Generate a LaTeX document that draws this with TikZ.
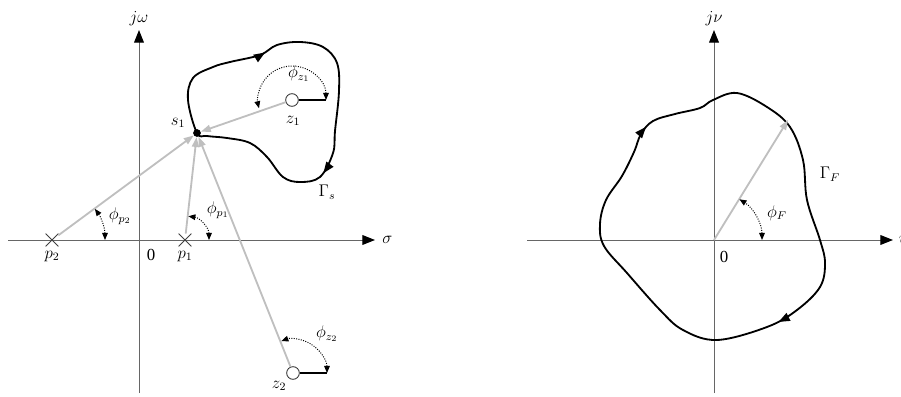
\documentclass[tikz,border=0pt]{standalone}
\usepackage{fontspec}
\setmainfont{Liberation Serif}
\usetikzlibrary{arrows.meta,shapes.misc,decorations.markings,positioning}

\begin{document}
\begin{tikzpicture}[
  x=0.025cm, y=0.025cm,
  font=\large,
  axis/.style={black!60, line width=0.7pt,
    -{Triangle[length=9pt,width=7pt,black]}},
  contour/.style={line width=1.3pt, line join=round},
  vec/.style={black!25, line width=1.3pt, -{Triangle[length=7pt,width=5pt]}},
  angarc/.style={densely dotted, line width=0.7pt,
    {Triangle[length=5pt,width=4pt]}-{Triangle[length=5pt,width=4pt]}},
  refray/.style={line width=0.9pt},
  pole/.style={cross out, draw, black!75, minimum size=8.5pt,
    inner sep=0pt, line width=0.6pt},
  zero/.style={circle, draw, black!80, fill=white, minimum size=9pt,
    inner sep=0pt, line width=0.6pt},
  dot/.style={circle, fill=black, minimum size=5.5pt, inner sep=0pt},
  lbl/.style={inner sep=1pt},
]
\useasboundingbox (0,0) rectangle (901,396);

% =========================== LEFT: s-plane ================================
\coordinate (xl1) at (8,156);
\coordinate (xr1) at (375,156);
\coordinate (yb1) at (139,3);
\coordinate (yt1) at (139,366);
\draw[axis] (xl1) -- (xr1);
\draw[axis] (yb1) -- (yt1);
\node[lbl, above=2pt of yt1] {$j\omega$};
\node[lbl, right=4pt of xr1] {$\sigma$};
\node[lbl] at (151,141) {0};

% contour Gamma_s
\draw[contour, decoration={markings,
    mark=at position 0.21 with {\arrow{Triangle[length=8pt,width=6pt]}},
    mark=at position 0.62 with {\arrow{Triangle[length=8pt,width=6pt]}}},
  postaction={decorate}]
  plot[smooth cycle, tension=0.6] coordinates {
    (197,263) (188,296) (193,318) (213,329) (230,334) (260,341) (277,351)
    (300,354) (323,349) (337,333) (339,305) (335,265) (333,243) (320,219)
    (300,214) (283,219) (267,239) (250,253) (227,258) (207,260)};
\node[lbl] (gs) at (327,204) {$\Gamma_s$};

% poles, zeros and the test point
\node[pole] (p2) at (52,156) {};
\node[pole] (p1) at (185,156) {};
\node[zero] (z1) at (292,296) {};
\node[zero] (z2) at (293,23) {};
\node[dot] (s1) at (197,263) {};
\node[lbl, below=2pt of p2] {$p_2$};
\node[lbl, below=2pt of p1] {$p_1$};
\node[lbl] at (293,275) {$z_1$};
\node[lbl] at (279,10) {$z_2$};
\node[lbl] at (178,273) {$s_1$};

% vectors to s1
\draw[vec] (p2) -- (s1);
\draw[vec] (p1) -- (s1);
\draw[vec] (z1) -- (s1);
\draw[vec] (z2) -- (s1);

% angles
\draw[angarc] (105,156) arc (0:36:53);
\node[lbl] at (120,180) {$\phi_{p_2}$};
\draw[angarc] (209,156) arc (0:82:24);
\node[lbl] at (218,186) {$\phi_{p_1}$};

\coordinate (z1r) at (326,296);
\draw[refray] (z1) -- (z1r);
\draw[angarc] (z1r) arc (0:194:34);
\node[lbl] at (299,322) {$\phi_{z_1}$};

\coordinate (z2r) at (327,23);
\draw[refray] (z2) -- (z2r);
\draw[angarc] (z2r) arc (0:110:34);
\node[lbl] at (327,62) {$\phi_{z_2}$};

% =========================== RIGHT: F-plane ===============================
\coordinate (xl2) at (527,156);
\coordinate (xr2) at (893,156);
\coordinate (yb2) at (714,3);
\coordinate (yt2) at (714,366);
\coordinate (O2) at (714,156);
\draw[axis] (xl2) -- (xr2);
\draw[axis] (yb2) -- (yt2);
\node[lbl, above=2pt of yt2] {$j\nu$};
\node[lbl, right=3pt of xr2] {$u$};
\node[lbl] at (724,139) {0};

% contour Gamma_F
\draw[contour, decoration={markings,
    mark=at position 0.39 with {\arrow{Triangle[length=8pt,width=6pt]}},
    mark=at position 0.865 with {\arrow{Triangle[length=8pt,width=6pt]}}},
  postaction={decorate}]
  plot[smooth cycle, tension=0.6] coordinates {
    (713,296) (737,303) (767,289) (790,269) (803,236) (807,196) (820,156)
    (825,133) (820,109) (797,86) (767,69) (717,56) (683,66) (660,86)
    (627,123) (604,150) (600,172) (606,196) (622,220) (634,244) (641,262)
    (653,275) (675,282) (700,288)};
\node[lbl] (gf) at (830,222) {$\Gamma_F$};

\coordinate (fpt) at (788,276);
\draw[vec] (O2) -- (fpt);
\draw[angarc] (762,156) arc (0:58:48);
\node[lbl] at (777,183) {$\phi_F$};

\end{tikzpicture}
\end{document}
